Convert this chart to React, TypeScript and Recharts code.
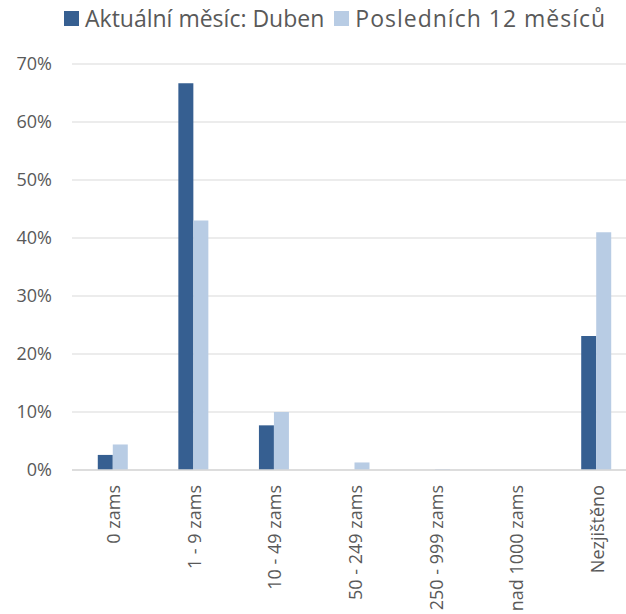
import React from "react";
import { BarChart, Bar, XAxis, YAxis, CartesianGrid } from "recharts";

const categories = [
  "0 zams",
  "1 - 9 zams",
  "10 - 49 zams",
  "50 - 249 zams",
  "250 - 999 zams",
  "nad 1000 zams",
  "Nezjištěno",
];
const aktualni = [2.6, 66.7, 7.7, 0, 0, 0, 23.1];
const posledních12 = [4.4, 43.0, 10.0, 1.3, 0.15, 0, 41.0];
const yTicks = [0, 10, 20, 30, 40, 50, 60, 70];

const seriesNames = ["Aktuální měsíc: Duben", "Posledních 12 měsíců"];
const DARK = "#365f91";
const LIGHT = "#b8cce4";
const TEXT = "#595959";
const FONT = "'Open Sans', 'Liberation Sans', sans-serif";

const data = categories.map((name, i) => ({
  name,
  aktualni: aktualni[i],
  posledni: posledních12[i],
}));

function RotatedTick({ x, y, payload }: any) {
  const tx = x + 8;
  const ty = y + 7;
  return (
    <text
      x={tx}
      y={ty}
      transform={`rotate(-90, ${tx}, ${ty})`}
      textAnchor="end"
      fill={TEXT}
      fontSize={18}
      fontFamily={FONT}
    >
      {payload.value}
    </text>
  );
}

function LegendRow() {
  const colors = [DARK, LIGHT];
  // second label is a bit wider in the original, spread it slightly
  const spacing = [0, 1];
  return (
    <div
      style={{
        position: "absolute",
        top: 3,
        left: 64,
        display: "flex",
        alignItems: "center",
        fontFamily: FONT,
        fontSize: 23,
        lineHeight: "31px",
        color: TEXT,
        whiteSpace: "nowrap",
      }}
    >
      {seriesNames.map((n, i) => (
        <div key={n} style={{ display: "flex", alignItems: "center", marginRight: 10 }}>
          <span style={{ width: 15, height: 15, background: colors[i], display: "inline-block", marginRight: 6 }} />
          <span style={{ letterSpacing: spacing[i] }}>{n}</span>
        </div>
      ))}
    </div>
  );
}

export default function App() {
  return (
    <div
      style={{
        position: "fixed",
        top: 0,
        left: 0,
        width: 626,
        height: 614,
        overflow: "hidden",
        background: "#fff",
      }}
    >
      <LegendRow />
      <BarChart
        width={640}
        height={614}
        data={data}
        margin={{ top: 64, right: 4, left: 12, bottom: 0 }}
        barCategoryGap="32%"
        barGap={0}
      >
        <CartesianGrid vertical={false} stroke="#e6e6e6" strokeWidth={1.3} />
        <XAxis
          dataKey="name"
          height={144}
          interval={0}
          tickLine={false}
          axisLine={{ stroke: "#d9d9d9", strokeWidth: 1.5 }}
          tick={<RotatedTick />}
        />
        <YAxis
          width={60}
          domain={[0, 70]}
          ticks={yTicks}
          interval={0}
          axisLine={false}
          tickLine={false}
          tickMargin={14}
          tickFormatter={(v: number) => `${v}%`}
          tick={{ fill: TEXT, fontSize: 18, fontFamily: FONT }}
        />
        <Bar dataKey="aktualni" name={seriesNames[0]} fill={DARK} isAnimationActive={false} />
        <Bar dataKey="posledni" name={seriesNames[1]} fill={LIGHT} isAnimationActive={false} />
      </BarChart>
    </div>
  );
}
